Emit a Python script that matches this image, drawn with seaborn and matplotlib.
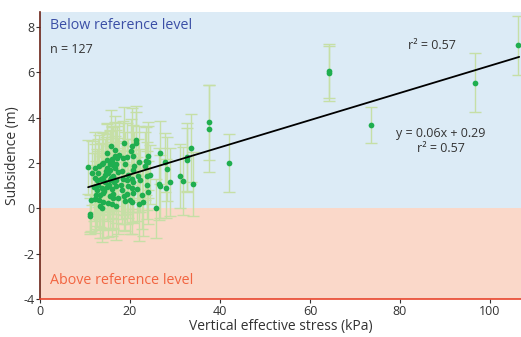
import numpy as np
import pandas as pd
import matplotlib
matplotlib.use("Agg")
import matplotlib.pyplot as plt
import seaborn as sns

# stress (kPa), subsidence (m), half-width of the error bar (m)
stress = [
    18.7, 21.3, 21.4, 20.4, 15.8, 16.7, 24.1, 26.7, 33.6, 32.7, 37.6, 37.6,
    16.7, 15.9, 15.0, 14.1, 15.6, 16.3, 17.2, 18.5, 19.3, 20.7, 23.6, 24.1, 27.8, 28.2, 32.6,
    10.7, 12.2, 13.2, 14.8, 15.6, 16.7, 17.4, 15.2, 14.4, 16.3, 20.6, 21.7, 23.7, 24.4, 23.3,
    12.2, 12.7, 13.5, 14.4, 15.6, 17.0, 18.5, 19.3, 20.4, 22.2, 23.7, 26.5, 26.7, 28.9, 28.0,
    31.1, 31.7, 34.1,
    11.9, 12.6, 13.7, 14.8, 15.9, 17.0, 18.2, 19.6, 20.4, 20.7, 23.9,
    12.4, 13.3, 14.1, 15.6, 16.3, 19.3, 22.6,
    11.3, 12.2, 13.2, 13.9, 15.2, 15.9, 17.0, 18.9, 20.4, 21.9, 23.0, 25.8, 13.3, 13.7,
    11.1, 11.1,
    13.0, 13.8, 14.2, 14.6, 15.0, 15.3, 15.7, 16.0, 16.2, 16.5, 16.9, 17.3, 17.6, 17.9,
    18.3, 18.7, 19.0, 19.5, 19.9, 20.2, 20.6, 21.0, 21.5, 22.0, 12.9, 11.6, 14.0,
    42.1, 64.2, 64.2, 73.6, 96.7, 106.2,
]
subsidence = [
    2.89, 3.02, 2.87, 2.74, 2.74, 2.58, 2.29, 2.46, 2.64, 2.14, 3.80, 3.52,
    2.31, 2.18, 2.11, 2.01, 1.96, 1.89, 2.21, 2.23, 2.26, 2.29, 2.09, 2.04, 2.04, 1.74, 2.26,
    1.82, 1.77, 1.85, 1.79, 1.70, 1.79, 1.60, 1.55, 1.45, 1.41, 1.67, 1.44, 1.42, 1.49, 1.85,
    1.35, 1.23, 1.29, 1.16, 1.23, 1.26, 1.29, 1.23, 1.29, 1.23, 1.01, 1.08, 0.97, 1.16, 0.89,
    1.42, 1.20, 1.07,
    0.94, 0.82, 0.91, 0.94, 0.86, 0.97, 0.79, 0.97, 0.91, 0.67, 0.70,
    0.57, 0.57, 0.67, 0.54, 0.47, 0.62, 0.57,
    0.38, 0.42, 0.35, 0.28, 0.23, 0.18, 0.09, 0.31, 0.28, 0.18, 0.26, 0.01, 0.09, 0.01,
    -0.23, -0.34,
    1.55, 1.95, 0.75, 1.65, 2.45, 1.05, 1.35, 2.05, 0.65, 1.15, 1.95, 0.45, 2.35, 1.05,
    1.65, 0.55, 1.95, 1.45, 0.35, 2.55, 1.15, 1.85, 0.85, 2.05, 1.05, 1.55, 1.35,
    1.99, 6.05, 5.95, 3.69, 5.54, 7.20,
]
err = [
    1.6, 1.5, 1.4, 1.7, 1.6, 1.5, 1.5, 1.4, 1.5, 1.4, 1.65, 1.9,
    1.5, 1.4, 1.6, 1.3, 1.5, 1.7, 1.4, 1.6, 1.5, 1.4, 1.5, 1.6, 1.3, 1.4, 1.5,
    1.2, 1.6, 1.4, 1.5, 1.7, 1.4, 1.5, 1.3, 1.6, 1.5, 1.4, 1.6, 1.5, 1.3, 1.5,
    1.5, 1.4, 1.6, 1.3, 1.5, 1.4, 1.6, 1.5, 1.3, 1.4, 1.5, 1.6, 1.4, 1.5, 1.3,
    1.4, 1.5, 1.4,
    1.5, 1.6, 1.4, 1.5, 1.3, 1.6, 1.5, 1.4, 1.5, 1.3, 1.4,
    1.5, 1.4, 1.6, 1.5, 1.4, 1.3, 1.5,
    1.4, 1.5, 1.3, 1.6, 1.5, 1.4, 1.5, 1.3, 1.4, 1.6, 1.5, 1.3, 1.4, 1.5,
    0.8, 0.8,
    1.5, 1.4, 1.6, 1.5, 1.3, 1.5, 1.4, 1.6, 1.5, 1.4, 1.5, 1.6, 1.4, 1.5,
    1.3, 1.5, 1.4, 1.6, 1.5, 1.4, 1.3, 1.5, 1.4, 1.6, 1.5, 1.4, 1.5,
    1.27, 1.2, 1.2, 0.8, 1.3, 1.3,
]

slope, intercept = 0.06, 0.29
fit_range = [10.7, 106.5]

df = pd.DataFrame({"stress": stress, "subsidence": subsidence, "err": err})
line = pd.DataFrame({"stress": fit_range})
line["fit"] = slope * line["stress"] + intercept

sns.set_style("white")
plt.rcParams["font.family"] = ["Open Sans", "DejaVu Sans"]
plt.rcParams["axes.unicode_minus"] = False

fig = plt.figure(figsize=(5.21, 3.37), dpi=100)
ax = fig.add_axes([40 / 521, 38 / 337, 481 / 521, 287 / 337])

ax.axhspan(0, 9, color="#dcebf6", zorder=0, lw=0)
ax.axhspan(-4, 0, color="#fad8c9", zorder=0, lw=0)

ax.errorbar(df["stress"], df["subsidence"], yerr=df["err"], fmt="none",
            ecolor="#c6dfa6", elinewidth=1, capsize=4, capthick=1, zorder=2)
sns.scatterplot(data=df, x="stress", y="subsidence", ax=ax, color="#1fae4f",
                s=17, linewidth=0, zorder=3)
sns.lineplot(data=line, x="stress", y="fit", ax=ax, color="black", lw=1.3, zorder=4)

ax.set_xlim(0, 106.9)
ax.set_ylim(-4, 8.66)
ax.set_xticks([0, 20, 40, 60, 80, 100])
ax.set_yticks([-4, -2, 0, 2, 4, 6, 8])
ax.tick_params(axis="both", direction="out", length=3, width=0.8, color="#333333",
               labelsize=9, labelcolor="#333333", pad=1, left=True, bottom=True)
ax.set_xlabel("Vertical effective stress (kPa)", fontsize=10, color="#333333", labelpad=1)
ax.set_ylabel("Subsidence (m)", fontsize=10, color="#333333", labelpad=2)

for s in ["top", "right"]:
    ax.spines[s].set_visible(False)
ax.spines["left"].set_color("#6b2318")
ax.spines["left"].set_linewidth(1.2)
ax.spines["bottom"].set_color("#e8452c")
ax.spines["bottom"].set_linewidth(1.2)

ax.text(2.2, 8.05, "Below reference level", fontsize=10.3, color="#3b4fa6", va="center")
ax.text(2.2, 7.0, "n = 127", fontsize=9, color="#333333", va="center")
ax.text(2.2, -3.2, "Above reference level", fontsize=10.3, color="#f26440", va="center")
ax.text(87, 7.2, "r² = 0.57", fontsize=9, color="#333333", ha="center", va="center")
ax.text(89, 3.3, "y = 0.06x + 0.29", fontsize=9, color="#333333", ha="center", va="center")
ax.text(89, 2.62, "r² = 0.57", fontsize=9, color="#333333", ha="center", va="center")

fig.savefig("out.png", dpi=100)
